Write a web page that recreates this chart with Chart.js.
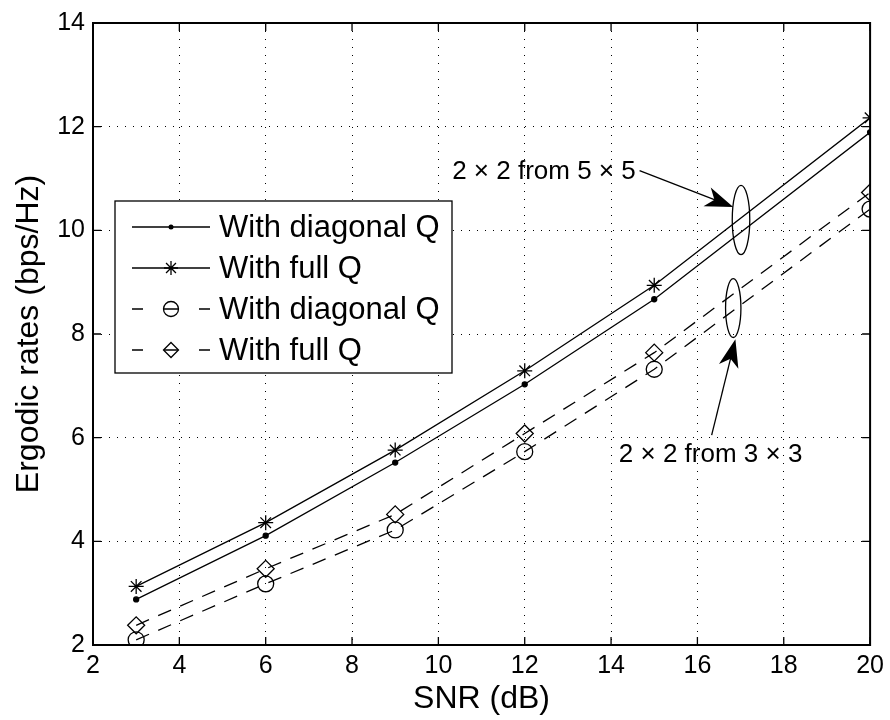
<!DOCTYPE html>
<html><head><meta charset="utf-8">
<script src="https://cdn.jsdelivr.net/npm/chart.js@4.4.0/dist/chart.umd.min.js"></script>
<style>html,body{margin:0;padding:0;background:#fff;} #wrap{width:890px;height:720px;}</style>
</head><body><div id="wrap"><canvas id="c" width="890" height="720"></canvas></div>
<script>
// ---- data ----
const snr   = [3, 6, 9, 12, 15, 20];
const diag5 = [2.88, 4.11, 5.52, 7.03, 8.67, 11.89];
const full5 = [3.13, 4.36, 5.76, 7.29, 8.94, 12.17];
const diag3 = [2.10, 3.18, 4.22, 5.73, 7.32, 10.41];
const full3 = [2.38, 3.47, 4.52, 6.08, 7.64, 10.73];
const xTickValues = [2, 4, 6, 8, 10, 12, 14, 16, 18, 20];
const yTickValues = [2, 4, 6, 8, 10, 12, 14];
const seriesLabels = ['With diagonal Q', 'With full Q', 'With diagonal Q', 'With full Q'];
const xTitle = 'SNR (dB)';
const yTitle = 'Ergodic rates (bps/Hz)';
// annotation texts and anchors (data units)
const annoTexts = ['2 \u00d7 2 from 5 \u00d7 5', '2 \u00d7 2 from 3 \u00d7 3'];
const annoTextAt = [[10.32, 11.12], [14.18, 5.67]];
const arrowFrom = [[14.66, 11.15], [16.33, 6.05]];
const arrowTo = [[16.83, 10.45], [16.88, 7.90]];
const ellipseAt = [[17.01, 10.20, 0.203, 0.669], [16.83, 8.50, 0.178, 0.568]];

const FONT = "'Liberation Sans', Arial, Helvetica, sans-serif";
const pts = (ys) => snr.map((x, i) => ({x: x, y: ys[i]}));

function drawMarker(ctx, style, x, y, r) {
  ctx.save();
  ctx.beginPath();
  if (style === 'dot') {
    ctx.arc(x, y, r, 0, Math.PI * 2);
    ctx.fillStyle = '#000'; ctx.fill();
  } else if (style === 'circle') {
    ctx.arc(x, y, r, 0, Math.PI * 2); ctx.stroke();
  } else if (style === 'rectRot') {
    ctx.moveTo(x, y - r); ctx.lineTo(x + r, y); ctx.lineTo(x, y + r); ctx.lineTo(x - r, y); ctx.closePath(); ctx.stroke();
  } else if (style === 'star') {
    const d = r * Math.SQRT1_2;
    ctx.moveTo(x - r, y); ctx.lineTo(x + r, y);
    ctx.moveTo(x, y - r); ctx.lineTo(x, y + r);
    ctx.moveTo(x - d, y - d); ctx.lineTo(x + d, y + d);
    ctx.moveTo(x - d, y + d); ctx.lineTo(x + d, y - d);
    ctx.stroke();
  }
  ctx.restore();
}

const frameAndAnno = {
  id: 'frameAndAnno',
  afterDatasetsDraw(chart) {
    const ctx = chart.ctx, a = chart.chartArea;
    const xs = chart.scales.x, ys = chart.scales.y;
    ctx.save();
    // frame
    ctx.strokeStyle = '#000'; ctx.lineWidth = 2;
    ctx.strokeRect(a.left, a.top, a.right - a.left, a.bottom - a.top);
    // inward ticks on all sides
    ctx.lineWidth = 1.3;
    ctx.beginPath();
    xTickValues.forEach(v => {
      const p = xs.getPixelForValue(v);
      ctx.moveTo(p, a.bottom); ctx.lineTo(p, a.bottom - 8);
      ctx.moveTo(p, a.top); ctx.lineTo(p, a.top + 8);
    });
    yTickValues.forEach(v => {
      const p = ys.getPixelForValue(v);
      ctx.moveTo(a.left, p); ctx.lineTo(a.left + 8, p);
      ctx.moveTo(a.right, p); ctx.lineTo(a.right - 8, p);
    });
    ctx.stroke();

    // ellipses
    ctx.lineWidth = 1.3;
    ellipseAt.forEach(e => {
      const cx = xs.getPixelForValue(e[0]), cy = ys.getPixelForValue(e[1]);
      const rx = Math.abs(xs.getPixelForValue(e[0] + e[2]) - cx);
      const ry = Math.abs(ys.getPixelForValue(e[1] + e[3]) - cy);
      ctx.beginPath(); ctx.ellipse(cx, cy, rx, ry, 0, 0, Math.PI * 2); ctx.stroke();
    });
    // arrows
    arrowFrom.forEach((f, i) => {
      const x0 = xs.getPixelForValue(f[0]), y0 = ys.getPixelForValue(f[1]);
      const x1 = xs.getPixelForValue(arrowTo[i][0]), y1 = ys.getPixelForValue(arrowTo[i][1]);
      const len = Math.hypot(x1 - x0, y1 - y0);
      const dx = (x1 - x0) / len, dy = (y1 - y0) / len;
      const nx = -dy, ny = dx;
      const L = 28, W = 10;
      ctx.lineWidth = 1.3;
      ctx.beginPath(); ctx.moveTo(x0, y0); ctx.lineTo(x1 - dx * L * 0.7, y1 - dy * L * 0.7); ctx.stroke();
      ctx.beginPath();
      ctx.moveTo(x1, y1);
      ctx.lineTo(x1 - dx * L + nx * W, y1 - dy * L + ny * W);
      ctx.lineTo(x1 - dx * L * 0.72, y1 - dy * L * 0.72);
      ctx.lineTo(x1 - dx * L - nx * W, y1 - dy * L - ny * W);
      ctx.closePath();
      ctx.fillStyle = '#000'; ctx.fill();
    });
    // annotation texts
    ctx.fillStyle = '#000';
    ctx.font = '26px ' + FONT;
    ctx.textAlign = 'left'; ctx.textBaseline = 'middle';
    annoTexts.forEach((t, i) => {
      ctx.fillText(t, xs.getPixelForValue(annoTextAt[i][0]), ys.getPixelForValue(annoTextAt[i][1]));
    });

    // legend (inside plot, top-left)
    const lx = 115, ly = 201, lw = 337, lh = 172;
    ctx.fillStyle = '#fff';
    ctx.fillRect(lx, ly, lw, lh);
    ctx.strokeStyle = '#000'; ctx.lineWidth = 1.3;
    ctx.strokeRect(lx, ly, lw, lh);
    ctx.font = '31px ' + FONT;
    ctx.textBaseline = 'middle';
    chart.data.datasets.forEach((ds, i) => {
      const yy = ly + 26 + i * 41;
      const x0 = lx + 17, x1 = lx + 95, xm = (x0 + x1) / 2;
      ctx.strokeStyle = '#000'; ctx.lineWidth = 1.3;
      ctx.beginPath();
      if (ds.borderDash && ds.borderDash.length) {
        ctx.moveTo(x0, yy); ctx.lineTo(x0 + 11, yy);
        ctx.moveTo(xm - 7, yy); ctx.lineTo(xm + 7, yy);
        ctx.moveTo(x1 - 11, yy); ctx.lineTo(x1, yy);
      } else {
        ctx.moveTo(x0, yy); ctx.lineTo(x1, yy);
      }
      ctx.stroke();
      const r = ds.mk === 'dot' ? 2.5 : (ds.mk === 'star' ? 7 : 7.5);
      drawMarker(ctx, ds.mk, xm, yy, r);
      ctx.fillStyle = '#000';
      ctx.fillText(ds.label, lx + 104, yy + 1);
    });
    ctx.restore();
  }
};

const base = {borderColor: '#000', borderWidth: 1.3, pointBorderColor: '#000', pointBorderWidth: 1.3,
              pointBackgroundColor: 'rgba(0,0,0,0)', tension: 0, fill: false, showLine: true};

new Chart(document.getElementById('c'), {
  type: 'scatter',
  data: {
    datasets: [
      Object.assign({}, base, {label: seriesLabels[0], data: pts(diag5), mk: 'dot', pointStyle: 'circle', pointRadius: 2.5, pointBackgroundColor: '#000'}),
      Object.assign({}, base, {label: seriesLabels[1], data: pts(full5), mk: 'star', pointStyle: 'star', pointRadius: 7.5}),
      Object.assign({}, base, {label: seriesLabels[2], data: pts(diag3), mk: 'circle', pointStyle: 'circle', pointRadius: 8, borderDash: [14, 10]}),
      Object.assign({}, base, {label: seriesLabels[3], data: pts(full3), mk: 'rectRot', pointStyle: 'rectRot', pointRadius: 8.5, borderDash: [14, 10]})
    ]
  },
  options: {
    responsive: false, animation: false, devicePixelRatio: 1,
    layout: {padding: {top: 17, right: 18, left: 0, bottom: 0}},
    plugins: {legend: {display: false}, tooltip: {enabled: false}},
    scales: {
      x: {
        type: 'linear', min: 2, max: 20,
        afterFit: s => { s.height = 75; },
        afterBuildTicks: s => { s.ticks = xTickValues.map(v => ({value: v})); },
        ticks: {color: '#000', font: {family: FONT, size: 25}, padding: 6, maxRotation: 0, autoSkip: false},
        grid: {color: '#000', lineWidth: 1, drawTicks: false},
        border: {display: false, dash: [1, 7]},
        title: {display: true, text: xTitle, color: '#000', font: {family: FONT, size: 32}, padding: {top: 0, bottom: 2}}
      },
      y: {
        type: 'linear', min: 2, max: 14,
        afterFit: s => { s.width = 93; },
        afterBuildTicks: s => { s.ticks = yTickValues.map(v => ({value: v})); },
        ticks: {color: '#000', font: {family: FONT, size: 25}, padding: 8, autoSkip: false},
        grid: {color: '#000', lineWidth: 1, drawTicks: false},
        border: {display: false, dash: [1, 7]},
        title: {display: true, text: yTitle, color: '#000', font: {family: FONT, size: 32}, padding: {top: 10, bottom: 0}}
      }
    }
  },
  plugins: [frameAndAnno]
});
</script>
</body></html>
